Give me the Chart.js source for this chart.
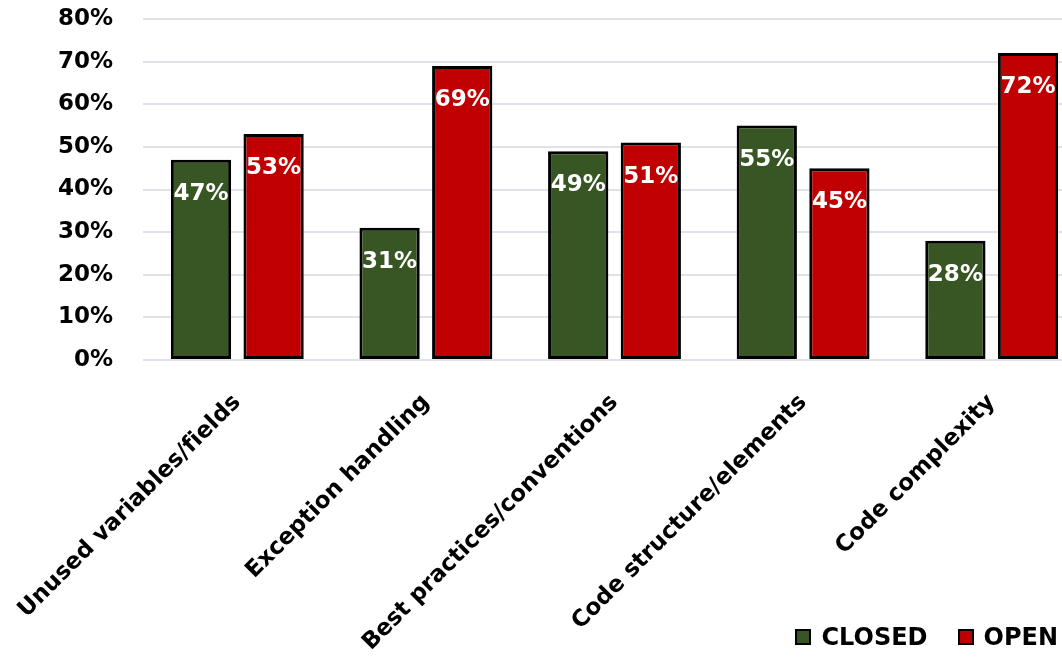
<!DOCTYPE html>
<html>
<head>
<meta charset="utf-8">
<script src="https://cdn.jsdelivr.net/npm/chart.js@4"></script>
<style>
  html, body { margin: 0; padding: 0; background: #fff; overflow: hidden; }
  .chart-container { width: 1062px; height: 659px; overflow: hidden; position: relative; }
</style>
</head>
<body>
<div class="chart-container">
  <canvas id="issueChart" width="1088" height="659"></canvas>
</div>
<script>
const categories = ['Unused variables/fields', 'Exception handling', 'Best practices/conventions', 'Code structure/elements', 'Code complexity'];
const seriesNames = ['CLOSED', 'OPEN'];
const seriesColors = ['#375623', '#C00000'];
const closedValues = [47, 31, 49, 55, 28];
const openValues = [53, 69, 51, 45, 72];
const yTicks = [0, 10, 20, 30, 40, 50, 60, 70, 80];

const FONT = "'DejaVu Sans', sans-serif";

// no "fi" ligatures in the canvas text
const plainText = {
    id: 'plainText',
    beforeDraw(chart) {
        chart.ctx.textRendering = 'optimizeSpeed';
    }
};

// white percentage labels near the top of every bar
const barLabels = {
    id: 'barLabels',
    afterDatasetsDraw(chart) {
        const ctx = chart.ctx;
        ctx.save();
        ctx.fillStyle = '#ffffff';
        ctx.font = 'bold 23px ' + FONT;
        ctx.textAlign = 'center';
        ctx.textBaseline = 'middle';
        chart.data.datasets.forEach((ds, i) => {
            chart.getDatasetMeta(i).data.forEach((bar, j) => {
                ctx.fillText(ds.data[j] + '%', bar.x, bar.y + 34);
            });
        });
        ctx.restore();
    }
};

document.addEventListener('DOMContentLoaded', () => {
    const ctx = document.getElementById('issueChart').getContext('2d');
    const makeSet = (i, data) => ({
        label: seriesNames[i],
        data: data,
        backgroundColor: seriesColors[i],
        borderColor: '#000000',
        borderWidth: 3,
        borderSkipped: false,
        barPercentage: 0.83,
        categoryPercentage: 0.77
    });
    new Chart(ctx, {
        type: 'bar',
        data: {
            labels: categories,
            datasets: [makeSet(0, closedValues), makeSet(1, openValues)]
        },
        options: {
            responsive: false,
            animation: false,
            devicePixelRatio: 1,
            layout: {
                padding: { left: 55, top: 19, right: 2, bottom: 0 }
            },
            scales: {
                y: {
                    min: 0,
                    max: 80,
                    afterBuildTicks: (scale) => {
                        scale.ticks = yTicks.map(v => ({ value: v }));
                    },
                    afterFit: (scale) => {
                        scale.width = 88;
                        scale.paddingTop = 0;
                        scale.paddingBottom = 0;
                    },
                    ticks: {
                        callback: (v) => v + '%',
                        color: '#000000',
                        padding: 30,
                        font: { family: FONT, size: 23, weight: 'bold' }
                    },
                    grid: {
                        color: '#dfe2e9',
                        lineWidth: 2,
                        drawTicks: false
                    },
                    border: { display: false }
                },
                x: {
                    afterFit: (scale) => {
                        scale.height = 299;
                        scale.paddingLeft = 0;
                        scale.paddingRight = 0;
                        scale.paddingTop = 0;
                        scale.paddingBottom = 0;
                    },
                    ticks: {
                        autoSkip: false,
                        maxRotation: 45,
                        minRotation: 45,
                        padding: 29,
                        color: '#000000',
                        font: { family: FONT, size: 23, weight: 'bold' }
                    },
                    grid: { display: false, drawTicks: false },
                    border: { display: false }
                }
            },
            plugins: {
                legend: { display: false },
                tooltip: { enabled: false }
            }
        },
        plugins: [plainText, barLabels]
    });

    // legend in the bottom-right corner
    const legendBox = document.createElement('div');
    legendBox.style.position = 'absolute';
    legendBox.style.right = '4px';
    legendBox.style.top = '623px';
    legendBox.style.display = 'flex';
    legendBox.style.alignItems = 'center';
    legendBox.style.font = 'bold 24px ' + FONT;
    legendBox.style.color = '#000';
    seriesNames.forEach((name, i) => {
        const item = document.createElement('div');
        item.style.display = 'flex';
        item.style.alignItems = 'center';
        item.style.marginLeft = i > 0 ? '30px' : '0';
        const swatch = document.createElement('span');
        swatch.style.display = 'inline-block';
        swatch.style.width = '12px';
        swatch.style.height = '12px';
        swatch.style.border = '2px solid #000';
        swatch.style.background = seriesColors[i];
        swatch.style.marginRight = '10px';
        item.appendChild(swatch);
        const text = document.createElement('span');
        text.textContent = name;
        item.appendChild(text);
        legendBox.appendChild(item);
    });
    document.querySelector('.chart-container').appendChild(legendBox);
});
</script>
</body>
</html>
